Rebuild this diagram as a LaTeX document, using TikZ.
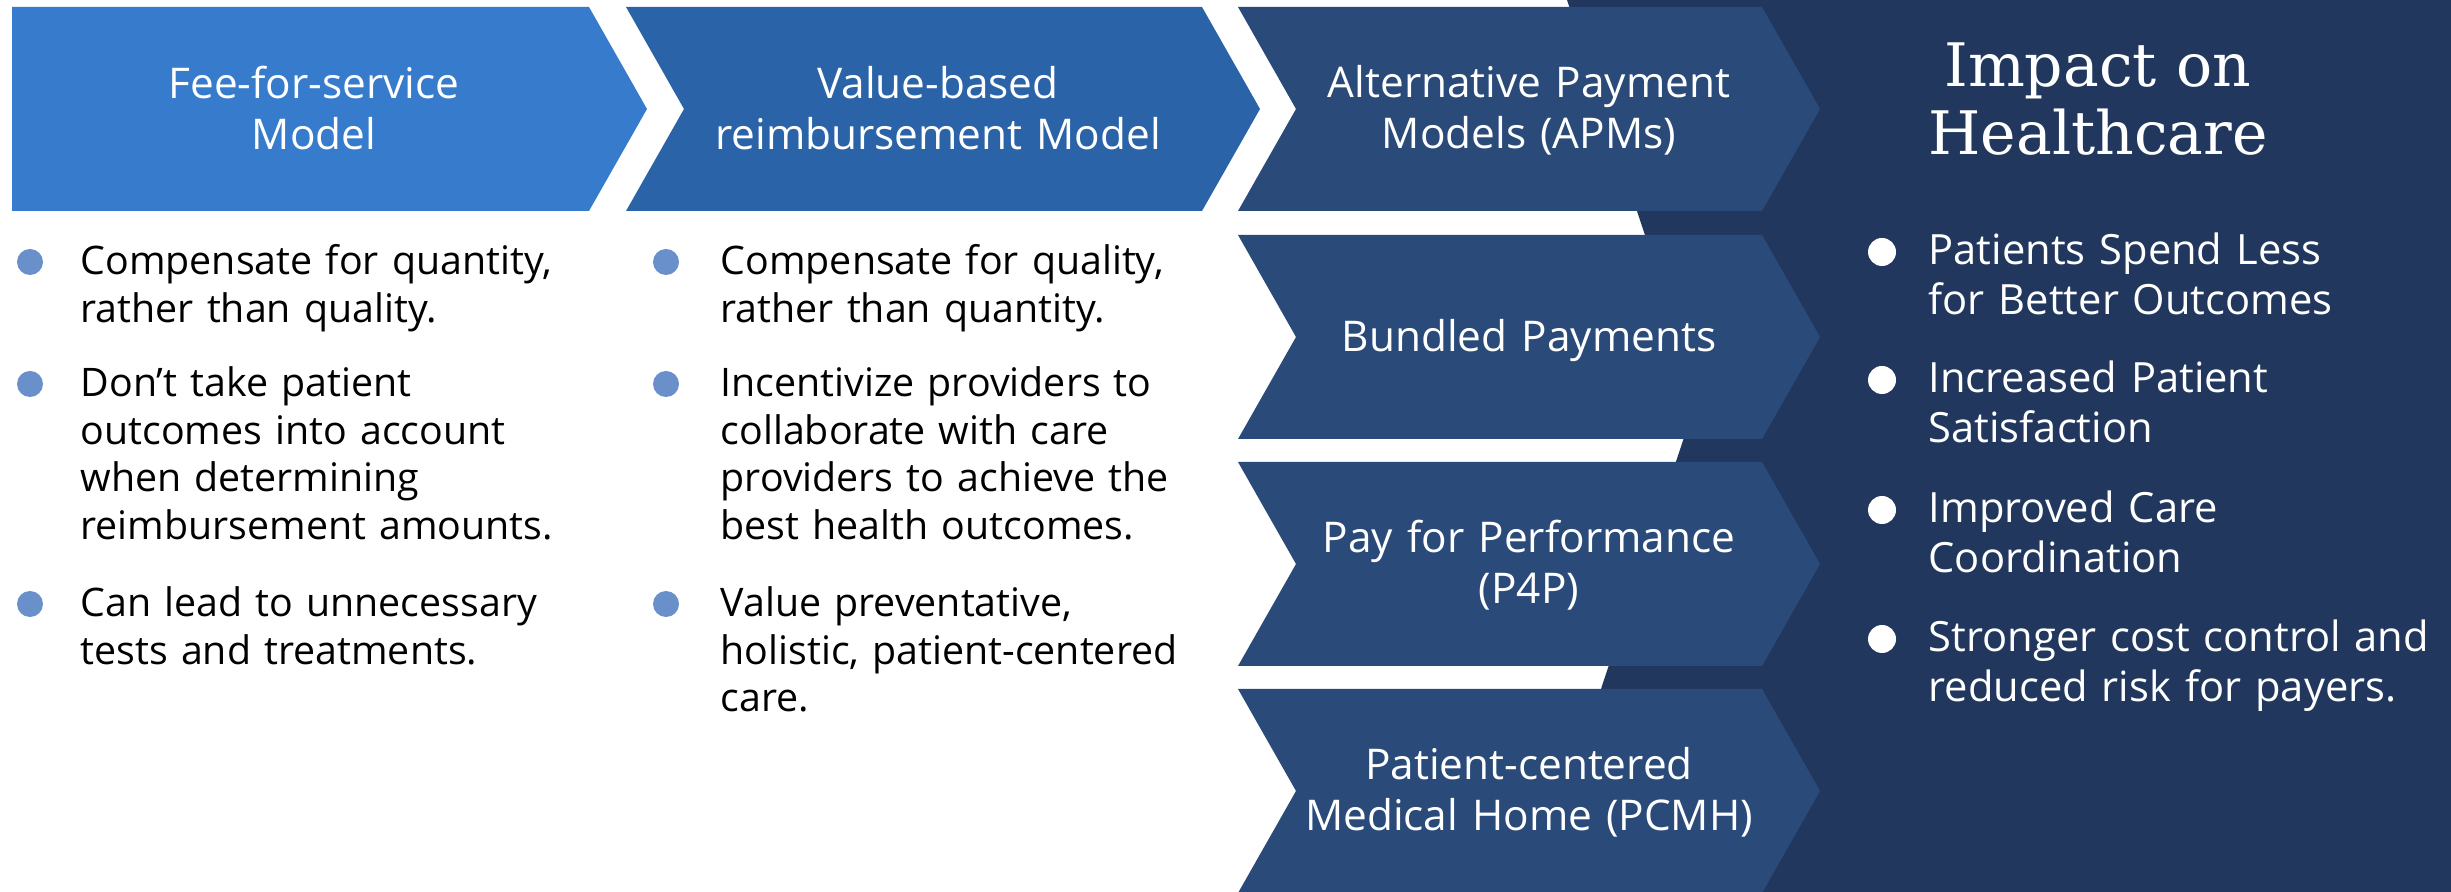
\documentclass[tikz,border=0pt]{standalone}
\usepackage{fontspec}
\setmainfont{Open Sans}
\newfontfamily\titlefont{DejaVu Serif}
\definecolor{feeblue}{HTML}{367BCC}
\definecolor{valueblue}{HTML}{2B63A8}
\definecolor{apmblue}{HTML}{2A4A7A}
\definecolor{impactblue}{HTML}{21375E}
\definecolor{dotblue}{HTML}{6A90CC}
\tikzset{
	chevtext/.style={text=white, align=center, text width=180pt, anchor=base, inner sep=0pt, font=\fontsize{12.7}{15.3}\selectfont},
	pointtext/.style={anchor=base west, align=left, text width=220pt, inner sep=0pt, font=\fontsize{11.8}{14.25}\selectfont},
	impacttext/.style={pointtext, text=white, font=\fontsize{12.5}{15}\selectfont}
}
\begin{document}
\begin{tikzpicture}[x=0.3pt, y=-0.3pt]
	\useasboundingbox (0,0) rectangle (2451,892);
	\fill[white] (0,0) rectangle (2451,892);

	% dark panel on the right
	\fill[impactblue] (1567,0) -- (2451,0) -- (2451,892) -- (1534,892) -- (1698,395) -- cycle;

	% chevrons
	\fill[feeblue] (12,7) -- (589,7) -- (647,109) -- (589,211) -- (12,211) -- cycle;
	\fill[valueblue] (626,7) -- (1202,7) -- (1260,109) -- (1202,211) -- (626,211) -- (684,109) -- cycle;
	\foreach \t in {7,235,462,689}
		\fill[apmblue] (1238,\t) -- (1762,\t) -- (1820,\t+102) -- (1762,\t+204) -- (1238,\t+204) -- (1296,\t+102) -- cycle;

	\node[chevtext] (fee) at (314,99) {Fee-for-service\\Model};
	\node[chevtext] (value) at (938,99) {Value-based\\reimbursement Model};
	\node[chevtext] (apm) at (1529,98) {Alternative Payment\\Models (APMs)};
	\node[chevtext] (bundled) at (1529,352) {Bundled Payments};
	\node[chevtext] (p4p) at (1529,553) {Pay for Performance\\(P4P)};
	\node[chevtext] (pcmh) at (1529,780) {Patient-centered\\Medical Home (PCMH)};

	\node[chevtext, font=\titlefont\fontsize{18}{20.4}\selectfont] (impact) at (2098,87) {Impact on\\Healthcare};

	% fee-for-service points
	\fill[dotblue] (30,262) circle (13);
	\node[pointtext] (fee1) at (80,275) {Compensate for quantity,\\rather than quality.};
	\fill[dotblue] (30,384) circle (13);
	\node[pointtext] (fee2) at (80,397) {Don’t take patient\\outcomes into account\\when determining\\reimbursement amounts.};
	\fill[dotblue] (30,604) circle (13);
	\node[pointtext] (fee3) at (80,617) {Can lead to unnecessary\\tests and treatments.};

	% value-based points
	\fill[dotblue] (666,262) circle (13);
	\node[pointtext] (value1) at (720,275) {Compensate for quality,\\rather than quantity.};
	\fill[dotblue] (666,384) circle (13);
	\node[pointtext] (value2) at (720,397) {Incentivize providers to\\collaborate with care\\providers to achieve the\\best health outcomes.};
	\fill[dotblue] (666,604) circle (13);
	\node[pointtext] (value3) at (720,617) {Value preventative,\\holistic, patient-centered\\care.};

	% impact points
	\fill[white] (1882,252) circle (14);
	\node[impacttext] (impact1) at (1928,265) {Patients Spend Less\\for Better Outcomes};
	\fill[white] (1882,380) circle (14);
	\node[impacttext] (impact2) at (1928,393) {Increased Patient\\Satisfaction};
	\fill[white] (1882,510) circle (14);
	\node[impacttext] (impact3) at (1928,523) {Improved Care\\Coordination};
	\fill[white] (1882,639) circle (14);
	\node[impacttext] (impact4) at (1928,652) {Stronger cost control and\\reduced risk for payers.};
\end{tikzpicture}
\end{document}
